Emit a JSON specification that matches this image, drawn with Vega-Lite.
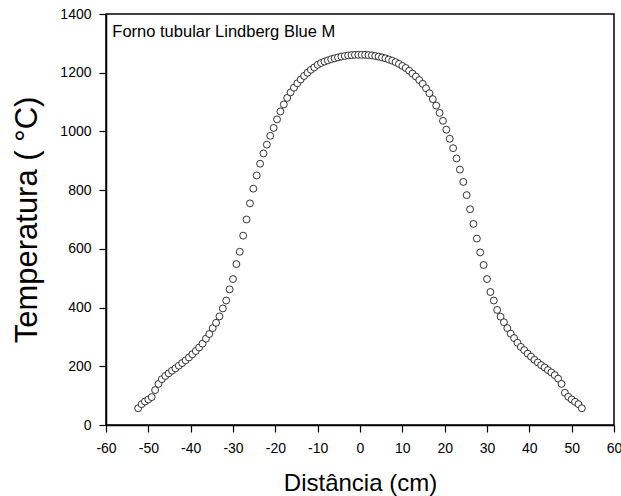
{
  "$schema": "https://vega.github.io/schema/vega-lite/v6.json",
  "autosize": {"type": "none"},
  "padding": {"left": 106, "top": 14, "right": 7, "bottom": 71},
  "width": 508,
  "height": 411,
  "background": "white",
  "config": {
    "font": "Liberation Sans",
    "view": {"stroke": "black", "strokeWidth": 1.5},
    "axis": {"domainColor": "black", "domainWidth": 1.5, "tickColor": "black", "tickWidth": 1.2, "labelColor": "black", "titleColor": "black", "labelFont": "Liberation Sans", "titleFont": "Liberation Sans", "titleFontWeight": "normal", "grid": false}
  },
  "datasets": {
    "profile": [
      {"d":-52.4,"t":57},{"d":-51.6,"t":71},{"d":-50.8,"t":80},{"d":-50.0,"t":87},{"d":-49.2,"t":95},{"d":-48.4,"t":119},{"d":-47.6,"t":140},{"d":-46.8,"t":156},{"d":-46.0,"t":167},{"d":-45.2,"t":176},{"d":-44.4,"t":185},{"d":-43.6,"t":193},{"d":-42.8,"t":202},{"d":-42.0,"t":211},{"d":-41.2,"t":220},{"d":-40.4,"t":230},{"d":-39.6,"t":241},{"d":-38.8,"t":252},{"d":-38.0,"t":264},{"d":-37.2,"t":277},{"d":-36.4,"t":294},{"d":-35.6,"t":310},{"d":-34.8,"t":330},{"d":-34.0,"t":348},{"d":-33.2,"t":370},{"d":-32.4,"t":397},{"d":-31.6,"t":424},{"d":-30.8,"t":462},{"d":-30.0,"t":497},{"d":-29.2,"t":548},{"d":-28.4,"t":590},{"d":-27.6,"t":645},{"d":-26.8,"t":700},{"d":-26.0,"t":755},{"d":-25.2,"t":805},{"d":-24.4,"t":850},{"d":-23.6,"t":890},{"d":-22.8,"t":925},{"d":-22.0,"t":955},{"d":-21.2,"t":985},{"d":-20.4,"t":1012},{"d":-19.6,"t":1041},{"d":-18.8,"t":1068},{"d":-18.0,"t":1092},{"d":-17.2,"t":1114},{"d":-16.4,"t":1133},{"d":-15.6,"t":1149},{"d":-14.8,"t":1164},{"d":-14.0,"t":1177},{"d":-13.2,"t":1189},{"d":-12.4,"t":1200},{"d":-11.6,"t":1210},{"d":-10.8,"t":1218},{"d":-10.0,"t":1227},{"d":-9.2,"t":1233},{"d":-8.4,"t":1238},{"d":-7.6,"t":1242},{"d":-6.8,"t":1246},{"d":-6.0,"t":1249},{"d":-5.2,"t":1252},{"d":-4.4,"t":1255},{"d":-3.6,"t":1257},{"d":-2.8,"t":1259},{"d":-2.0,"t":1260},{"d":-1.2,"t":1261},{"d":-0.4,"t":1261},
      {"d":0.4,"t":1261},{"d":1.2,"t":1261},{"d":2.0,"t":1260},{"d":2.8,"t":1259},{"d":3.6,"t":1257},{"d":4.4,"t":1255},{"d":5.2,"t":1252},{"d":6.0,"t":1249},{"d":6.8,"t":1245},{"d":7.6,"t":1241},{"d":8.4,"t":1236},{"d":9.2,"t":1230},{"d":10.0,"t":1223},{"d":10.8,"t":1216},{"d":11.6,"t":1207},{"d":12.4,"t":1197},{"d":13.2,"t":1187},{"d":14.0,"t":1175},{"d":14.8,"t":1162},{"d":15.6,"t":1147},{"d":16.4,"t":1130},{"d":17.2,"t":1110},{"d":18.0,"t":1088},{"d":18.8,"t":1063},{"d":19.6,"t":1036},{"d":20.4,"t":1006},{"d":21.2,"t":975},{"d":22.0,"t":943},{"d":22.8,"t":908},{"d":23.6,"t":870},{"d":24.4,"t":828},{"d":25.2,"t":783},{"d":26.0,"t":735},{"d":26.8,"t":685},{"d":27.6,"t":635},{"d":28.4,"t":588},{"d":29.2,"t":545},{"d":30.0,"t":497},{"d":30.8,"t":453},{"d":31.6,"t":424},{"d":32.4,"t":392},{"d":33.2,"t":369},{"d":34.0,"t":350},{"d":34.8,"t":330},{"d":35.6,"t":311},{"d":36.4,"t":296},{"d":37.2,"t":280},{"d":38.0,"t":266},{"d":38.8,"t":255},{"d":39.6,"t":243},{"d":40.4,"t":233},{"d":41.2,"t":222},{"d":42.0,"t":213},{"d":42.8,"t":204},{"d":43.6,"t":196},{"d":44.4,"t":187},{"d":45.2,"t":179},{"d":46.0,"t":170},{"d":46.8,"t":158},{"d":47.6,"t":140},{"d":48.4,"t":110},{"d":49.2,"t":96},{"d":50.0,"t":87},{"d":50.8,"t":79},{"d":51.6,"t":71},{"d":52.4,"t":57}
    ],
    "note": [{"label": "Forno tubular Lindberg  Blue M"}]
  },
  "layer": [
    {
      "data": {"name": "profile"},
      "mark": {"type": "point", "shape": "circle", "filled": false, "fill": "white", "fillOpacity": 1, "stroke": "black", "strokeWidth": 0.8, "opacity": 1, "size": 48},
      "encoding": {
        "x": {"field": "d", "type": "quantitative", "scale": {"domain": [-60, 60], "nice": false, "zero": false},
          "axis": {"title": "Distância (cm)", "values": [-60,-55,-50,-45,-40,-35,-30,-25,-20,-15,-10,-5,0,5,10,15,20,25,30,35,40,45,50,55,60],
            "labelExpr": "datum.value % 10 === 0 ? '' + datum.value : ''", "labelFontSize": 14, "labelPadding": 9, "tickSize": 7, "labelFlush": false, "labelOverlap": false,
            "titleFontSize": 24, "titlePadding": 16,
            "encode": {"ticks": {"update": {"y2": {"signal": "datum.value % 10 === 0 ? 7 : 4"}}}}}},
        "y": {"field": "t", "type": "quantitative", "scale": {"domain": [0, 1400], "nice": false},
          "axis": {"title": "Temperatura ( °C)", "values": [0,100,200,300,400,500,600,700,800,900,1000,1100,1200,1300,1400],
            "labelExpr": "datum.value % 200 === 0 ? '' + datum.value : ''", "labelFontSize": 14, "labelPadding": 8, "tickSize": 7, "labelFlush": false, "labelOverlap": false,
            "titleFontSize": 31, "titlePadding": 16,
            "encode": {"ticks": {"update": {"x2": {"signal": "datum.value % 200 === 0 ? -7 : -4"}}}}}}
      }
    },
    {
      "data": {"name": "note"},
      "mark": {"type": "text", "align": "left", "baseline": "alphabetic", "fontSize": 16.5, "fontWeight": "normal", "font": "Liberation Sans", "fill": "black"},
      "encoding": {"text": {"field": "label"}, "x": {"datum": -58.5}, "y": {"datum": 1320}}
    }
  ]
}
